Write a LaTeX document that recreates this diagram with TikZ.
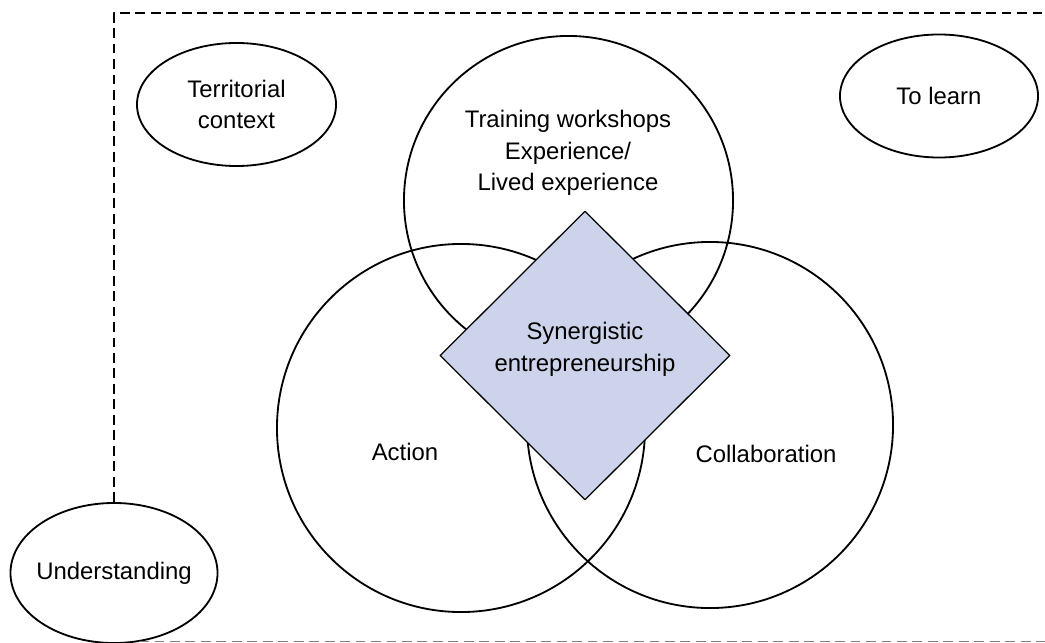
\documentclass[tikz,border=0pt]{standalone}
\usepackage{fontspec}
\setmainfont{Liberation Sans}
\usetikzlibrary{shapes.geometric}
\definecolor{synfill}{RGB}{204,211,234}
\begin{document}
\begin{tikzpicture}[x=0.025cm,y=-0.025cm,line join=round,
	font=\fontsize{17}{22.5}\selectfont,
	oval/.style={ellipse,draw,line width=1.3pt,inner sep=0pt,align=center},
	ring/.style={circle,draw,line width=1.3pt,inner sep=0pt},
	lbl/.style={align=center,inner sep=0pt},
	frame/.style={dash pattern=on 7pt off 4pt,line width=1.4pt}]
	\useasboundingbox (0,0) rectangle (1045,643);
	% outer ellipses
	\node[oval,minimum width=4.975cm,minimum height=3.075cm] (terr) at (236.5,104.5) {Territorial\\context};
	\node[oval,minimum width=4.95cm,minimum height=3.075cm] (learn) at (939,96) {To learn};
	\node[oval,inner xsep=-8pt,minimum width=5.175cm,minimum height=3.5cm] (under) at (114,573) {Understanding};
	% frame
	\coordinate (tr) at (1045,13);
	\draw[frame] (under.north) |- (tr);
	\draw[frame,gray,line width=0.9pt] (under.-70) -- (under.-70 -| tr);
	% three circles
	\node[ring,minimum size=8.225cm] (train) at (568.5,200.5) {};
	\node[ring,minimum size=9.2cm] (action) at (461,428) {};
	\node[ring,minimum size=9.15cm] (collab) at (710,425) {};
	\node[lbl] (traintext) at (568,153) {Training workshops\\Experience/\\Lived experience};
	\node[lbl] (actiontext) at (405,452) {Action};
	\node[lbl] (collabtext) at (766,454) {Collaboration};
	% centre
	\node[diamond,draw,fill=synfill,line width=0.9pt,inner sep=0pt,minimum width=7.25cm,minimum height=7.225cm] (syn) at (585,355.5) {};
	\node[lbl] (syntext) at (585,349) {Synergistic\\entrepreneurship};
\end{tikzpicture}
\end{document}
